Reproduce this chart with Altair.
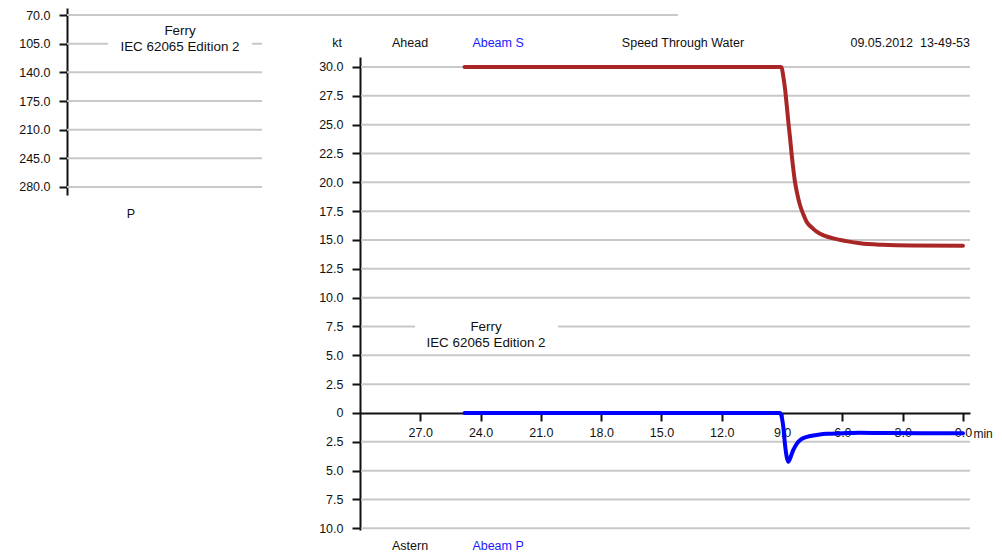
import altair as alt
import pandas as pd

FONT = "Liberation Sans"
INK = "#111111"
GRID = "#c8c8c8"
BLUE_TXT = "#1a1aff"
FS = 12.5
FS_BOX = 13.4

# ---------------- data ----------------
# speed through water, ahead (kt) vs minutes before now
red_t = [24.8, 9.08, 9.02, 8.95, 8.856, 8.77, 8.69, 8.6, 8.52, 8.44, 8.36, 8.24,
         8.11, 7.95, 7.78, 7.5, 7.28, 6.9, 6.45, 5.8, 5.12, 4.0, 2.5, 0.0]
red_v = [30.0, 30.0, 29.94, 29.3, 28.15, 26.7, 25.26, 23.8, 22.37, 21.15, 20.06, 18.95,
         18.03, 17.25, 16.59, 16.05, 15.72, 15.38, 15.14, 14.9, 14.71, 14.58, 14.52, 14.5]
# abeam speed (negative = port)
blue_t = [24.8, 9.1, 9.04, 8.98, 8.94, 8.86, 8.77, 8.69, 8.6, 8.52, 8.44, 8.3,
          8.1, 7.85, 7.6, 7.2, 6.78, 6.0, 5.12, 4.0, 2.0, 0.0]
blue_v = [0.0, 0.0, -0.2, -0.7, -1.19, -2.64, -3.8, -4.23, -3.95, -3.55, -3.2, -2.75,
          -2.35, -2.12, -2.0, -1.88, -1.8, -1.76, -1.72, -1.74, -1.75, -1.75]

time_ticks = [27.0, 24.0, 21.0, 18.0, 15.0, 12.0, 9.0, 6.0, 3.0, 0.0]
speed_ticks = [-10.0, -7.5, -5.0, -2.5, 0.0, 2.5, 5.0, 7.5, 10.0, 12.5, 15.0, 17.5,
               20.0, 22.5, 25.0, 27.5, 30.0]
speed_grid = [v for v in speed_ticks if v != 0.0]
heading_ticks = [70.0, 105.0, 140.0, 175.0, 210.0, 245.0, 280.0]
heading_grid_end = [3.133, 1, 1, 1, 1, 1, 1]

# annotation texts (positions in data units)
hdr_text = ["kt", "Ahead", "Abeam S", "Speed Through Water", "Astern", "Abeam P"]
hdr_t = [31.144, 27.51, 23.13, 13.93, 27.51, 23.13]
hdr_v = [32.08, 32.08, 32.08, 32.08, -11.53, -11.53]
hdr_col = ["k", "k", "b", "k", "k", "b"]
date_text = ["09.05.2012\u00a0 13-49-53"]
unit_text = ["min"]
box_text = ["Ferry", "IEC 62065 Edition 2"]
box_lines_v = [7.457, 6.07]
box_center_t = 23.73
box_t = [27.264, 20.149]
box_v = [8.32, 5.29]

left_box_lines = [89.53, 109.07]
left_box_center = 0.5795
left_box_x = [0.2103, 0.9487]
left_box_y = [77.3, 121.3]
left_p = ["P"]

# ---------------- scales / axes ----------------
sx = alt.Scale(domain=[30, -0.35], range=[352, 962], nice=False, zero=False)
sy = alt.Scale(domain=[-10.145, 30.867], range=[522, 49], nice=False, zero=False)

common_axis = dict(title=None, grid=False, tickSize=8, tickWidth=2, tickColor=INK,
                   domainColor=INK, domainWidth=2, labelFont=FONT, labelFontSize=FS,
                   labelColor=INK, labelFlush=False, labelOverlap=False)
ax_x = alt.Axis(orient="bottom", offset=-139, values=time_ticks, format=".1f",
                labelPadding=5, **common_axis)
ax_y = alt.Axis(orient="left", offset=-352, values=speed_ticks,
                labelExpr="datum.value == 0 ? '0' : format(abs(datum.value), '.1f')",
                labelPadding=9, **common_axis)

lsx = alt.Scale(domain=[0, 1], range=[59, 254], nice=False, zero=False)
lsy = alt.Scale(domain=[61.45, 289.77], range=[0, 187], nice=False, zero=False)
ax_ly = alt.Axis(orient="left", offset=-59, values=heading_ticks, format=".1f",
                 labelPadding=9, **common_axis)


def MX(f):
    return alt.X(f, type="quantitative", scale=sx, axis=ax_x)


def MY(f):
    return alt.Y(f, type="quantitative", scale=sy, axis=ax_y)


def LX(f):
    return alt.X(f, type="quantitative", scale=lsx, axis=None)


def LY(f):
    return alt.Y(f, type="quantitative", scale=lsy, axis=ax_ly)


# ---------------- main panel ----------------
grid_df = pd.DataFrame({"v": speed_grid, "x0": [29.95] * len(speed_grid),
                        "x1": [-0.35] * len(speed_grid)})
grid = alt.Chart(grid_df).mark_rule(color=GRID, strokeWidth=2).encode(
    x=MX("x0"), x2="x1", y=MY("v"))

box_df = pd.DataFrame({"t0": [box_t[0]], "t1": [box_t[1]], "v0": [box_v[0]], "v1": [box_v[1]]})
box = alt.Chart(box_df).mark_rect(color="white").encode(
    x=MX("t0"), x2="t1", y=MY("v0"), y2="v1")

box_txt_df = pd.DataFrame({"txt": box_text, "t": [box_center_t] * 2, "v": box_lines_v})
box_txt = alt.Chart(box_txt_df).mark_text(font=FONT, fontSize=FS_BOX, color=INK,
                                          baseline="middle", align="center").encode(
    x=MX("t"), y=MY("v"), text="txt")

red_df = pd.DataFrame({"t": red_t, "v": red_v, "o": list(range(len(red_t)))})
red = alt.Chart(red_df).mark_line(color="#a82626", strokeWidth=4, interpolate="monotone",
                                  strokeCap="round").encode(
    x=MX("t"), y=MY("v"), order="o:Q")

blue_df = pd.DataFrame({"t": blue_t, "v": blue_v, "o": list(range(len(blue_t)))})
blue = alt.Chart(blue_df).mark_line(color="#0000ff", strokeWidth=4, interpolate="monotone",
                                    strokeCap="round").encode(
    x=MX("t"), y=MY("v"), order="o:Q")

hdr_df = pd.DataFrame({"txt": hdr_text, "t": hdr_t, "v": hdr_v, "c": hdr_col})
hdr = alt.Chart(hdr_df).mark_text(font=FONT, fontSize=FS, baseline="middle",
                                  align="center").encode(
    x=MX("t"), y=MY("v"), text="txt",
    color=alt.Color("c:N", scale=alt.Scale(domain=["k", "b"], range=[INK, BLUE_TXT]),
                    legend=None))

date_df = pd.DataFrame({"txt": date_text, "t": [-0.35], "v": [32.08]})
date = alt.Chart(date_df).mark_text(font=FONT, fontSize=FS, color=INK, baseline="middle",
                                    align="right").encode(
    x=MX("t"), y=MY("v"), text="txt")

unit_df = pd.DataFrame({"txt": unit_text, "t": [-0.52], "v": [-1.82]})
unit = alt.Chart(unit_df).mark_text(font=FONT, fontSize=12, color=INK, baseline="middle",
                                    align="left").encode(
    x=MX("t"), y=MY("v"), text="txt")

main = alt.layer(grid, box, box_txt, red, blue, hdr, date, unit)

# ---------------- left (heading) panel ----------------
lgrid_df = pd.DataFrame({"h": heading_ticks, "x0": [0.0] * len(heading_ticks),
                         "x1": heading_grid_end})
lgrid = alt.Chart(lgrid_df).mark_rule(color=GRID, strokeWidth=2).encode(
    x=LX("x0"), x2="x1", y=LY("h"))

lbox_df = pd.DataFrame({"x0": [left_box_x[0]], "x1": [left_box_x[1]],
                        "h0": [left_box_y[0]], "h1": [left_box_y[1]]})
lbox = alt.Chart(lbox_df).mark_rect(color="white").encode(
    x=LX("x0"), x2="x1", y=LY("h0"), y2="h1")

ltxt_df = pd.DataFrame({"txt": box_text, "x": [left_box_center] * 2, "h": left_box_lines})
ltxt = alt.Chart(ltxt_df).mark_text(font=FONT, fontSize=FS_BOX, color=INK, baseline="middle",
                                    align="center").encode(
    x=LX("x"), y=LY("h"), text="txt")

lp_df = pd.DataFrame({"txt": left_p, "x": [0.328], "h": [312.97]})
lp = alt.Chart(lp_df).mark_text(font=FONT, fontSize=FS, color=INK, baseline="middle",
                                align="center").encode(
    x=LX("x"), y=LY("h"), text="txt")

left = alt.layer(lgrid, lbox, ltxt, lp)

chart = alt.layer(left, main).resolve_scale(
    x="independent", y="independent", color="independent"
).properties(
    width=986, height=544, autosize=alt.AutoSizeParams(type="none"), padding=0,
    background="white"
).configure_view(stroke=None)

chart.save("out.html", embed_options={"renderer": "svg", "actions": False})
